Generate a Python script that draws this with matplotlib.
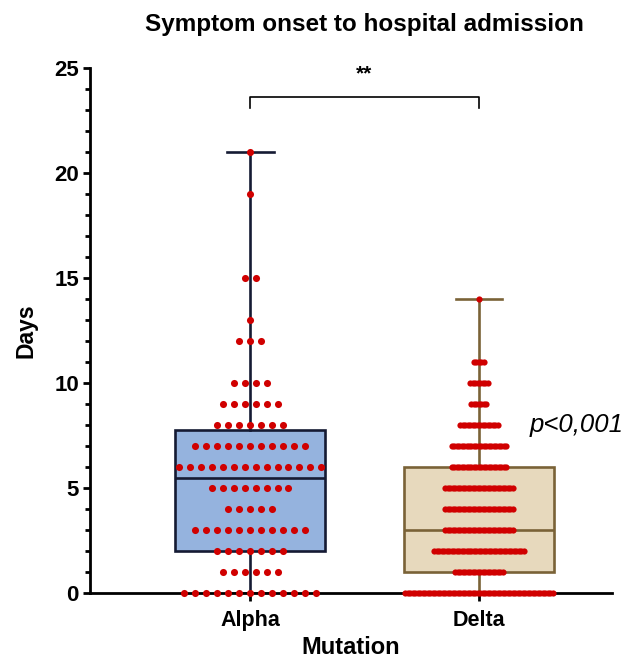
import numpy as np
import matplotlib
matplotlib.use('Agg')
import matplotlib.pyplot as plt

plt.rcParams['font.family'] = ['Liberation Sans', 'DejaVu Sans']

# ---- data ----
groups = ['Alpha', 'Delta']
alpha_days = [0, 1, 2, 3, 4, 5, 6, 7, 8, 9, 10, 12, 13, 15, 19, 21]
alpha_counts = [13, 6, 7, 11, 5, 8, 14, 11, 7, 6, 4, 3, 1, 2, 1, 1]
delta_days = [0, 1, 2, 3, 4, 5, 6, 7, 8, 9, 10, 11, 14]
delta_counts = [60, 20, 37, 28, 28, 28, 23, 23, 16, 7, 8, 5, 1]
p_text = 'p<0,001'
sig_text = '**'

# ---- styles ----
fill_colors = ['#95b3de', '#e7d9bd']
edge_colors = ['#151a33', '#7a6237']
dot_color = '#d00000'
dot_spacing = [0.048, 0.0109]
dot_size = [26, 20]

fig = plt.figure(figsize=(6.33, 6.62), dpi=100)
ax = fig.add_axes([90/633, 69/662, 522/633, 525/662])

positions = [1, 2]
datasets = [(alpha_days, alpha_counts), (delta_days, delta_counts)]

for i, (days, counts) in enumerate(datasets):
    vals = np.repeat(days, counts).astype(float)
    q1, med, q3 = np.percentile(vals, [25, 50, 75], method='weibull')
    stats = dict(med=med, q1=q1, q3=q3, whislo=vals.min(), whishi=vals.max(),
                 fliers=[], label=groups[i])
    ec = edge_colors[i]
    ax.bxp([stats], positions=[positions[i]], widths=0.655, capwidths=0.205,
           patch_artist=True, showfliers=False,
           boxprops=dict(facecolor=fill_colors[i], edgecolor=ec, linewidth=1.9),
           medianprops=dict(color=ec, linewidth=1.9),
           whiskerprops=dict(color=ec, linewidth=1.9),
           capprops=dict(color=ec, linewidth=1.9))
    xs, ys = [], []
    for d, n in zip(days, counts):
        offs = (np.arange(n) - (n - 1) / 2) * dot_spacing[i]
        xs.extend(positions[i] + offs)
        ys.extend([d] * n)
    ax.scatter(xs, ys, s=dot_size[i], color=dot_color, zorder=4,
               linewidths=0, clip_on=False)

ax.set_xlim(0.301, 2.581)
ax.set_ylim(0, 25)
ax.set_yticks(np.arange(0, 26, 5))
ax.set_yticks(np.arange(0, 26, 1), minor=True)
ax.set_xticks(positions)
ax.set_xticklabels(groups)

for s in ['top', 'right']:
    ax.spines[s].set_visible(False)
for s in ['left', 'bottom']:
    ax.spines[s].set_linewidth(2.0)
    ax.spines[s].set_color('black')

ax.tick_params(axis='y', which='major', length=5, width=2, labelsize=16, pad=3)
ax.tick_params(axis='y', which='minor', length=3.5, width=2)
ax.tick_params(axis='x', which='major', length=6, width=2, labelsize=15.5, pad=6)
for lab in ax.get_xticklabels() + ax.get_yticklabels():
    lab.set_fontweight('bold')

ax.set_ylabel('Days', fontsize=16.5, fontweight='bold', labelpad=12)
ax.set_xlabel('Mutation', fontsize=17, fontweight='bold', labelpad=4)

# significance bracket
ax.plot([1, 1, 2, 2], [23.1, 23.6, 23.6, 23.1], color='black', lw=1.2,
        clip_on=False)
ax.text(1.5, 24.7, sig_text, ha='center', va='center', fontsize=15,
        fontweight='bold')
ax.text(2.223, 8.0, p_text, ha='left', va='center', fontsize=18.5,
        style='italic', clip_on=False)

fig.text(364/633, 1 - 25/662, 'Symptom onset to hospital admission',
         ha='center', va='center', fontsize=17.5, fontweight='bold')

fig.savefig('out.png', dpi=100)
